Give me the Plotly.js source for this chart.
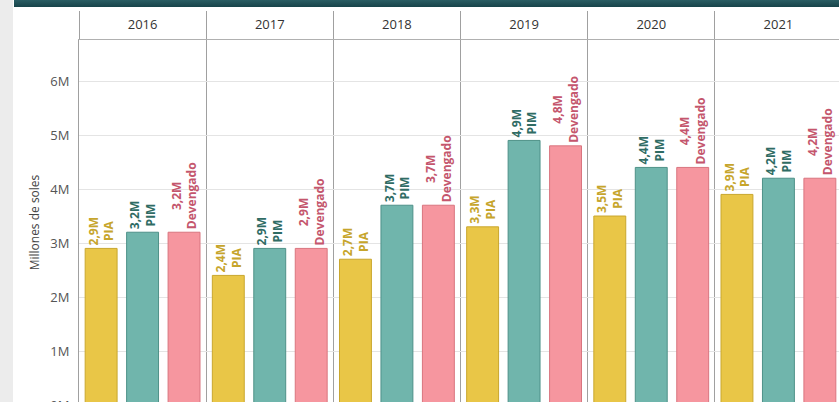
<!DOCTYPE html>
<html>
<head>
<meta charset="utf-8">
<script src="https://cdn.plot.ly/plotly-3.0.1.min.js"></script>
<style>
  html, body { margin: 0; padding: 0; width: 839px; height: 402px; overflow: hidden; background: #ececec; }
  #chart { position: absolute; left: 13px; top: 0; width: 850px; height: 420px; }
  #topbar { position: absolute; left: 14px; top: 0; width: 825px; height: 7px;
            background: linear-gradient(#2a5d63, #17444a); z-index: 5; }
</style>
</head>
<body>
<div id="chart"></div>
<div id="topbar"></div>
<script>
const years = ['2016', '2017', '2018', '2019', '2020', '2021'];
const pia = [2.9, 2.4, 2.7, 3.3, 3.5, 3.9];
const pim = [3.2, 2.9, 3.7, 4.9, 4.4, 4.2];
const devengado = [3.2, 2.9, 3.7, 4.8, 4.4, 4.2];
const seriesNames = ['PIA', 'PIM', 'Devengado'];
const yTickVals = [0, 1, 2, 3, 4, 5, 6];
const yTickText = ['0M', '1M', '2M', '3M', '4M', '5M', '6M'];

const fills = ['#E9C647', '#70B5AC', '#F6969F'];
const edges = ['#C9A72E', '#4E9188', '#D9757F'];
const labelColors = ['#C6A52C', '#2F6C64', '#C4566D'];

function fmt(v, name) {
  return v.toFixed(1).replace('.', ',') + 'M<br>' + name;
}

const allSeries = [pia, pim, devengado];
const traces = allSeries.map((vals, i) => ({
  type: 'bar',
  name: seriesNames[i],
  x: years,
  y: vals,
  text: vals.map(v => fmt(v, seriesNames[i])),
  textposition: 'outside',
  textangle: -90,
  constraintext: 'none',
  cliponaxis: false,
  textfont: { family: 'Open Sans, sans-serif', size: 12, color: labelColors[i], weight: 'bold' },
  marker: { color: fills[i], line: { color: edges[i], width: 1 } },
  hoverinfo: 'skip'
}));

const layout = {
  width: 850,
  height: 420,
  margin: { l: 66, r: 21, t: 40, b: 15 },
  paper_bgcolor: '#ffffff',
  plot_bgcolor: '#ffffff',
  showlegend: false,
  barmode: 'group',
  bargap: 0.022,
  bargroupgap: 0.23,
  font: { family: 'Open Sans, sans-serif', color: '#333' },
  xaxis: {
    type: 'category',
    side: 'top',
    tickson: 'boundaries',
    ticks: 'outside',
    ticklen: 28,
    tickcolor: '#a0a0a0',
    tickwidth: 1,
    showgrid: true,
    gridcolor: '#a0a0a0',
    gridwidth: 1,
    showline: true,
    linecolor: '#b0b0b0',
    linewidth: 1,
    ticklabelstandoff: 5,
    tickfont: { family: 'Open Sans, sans-serif', size: 13, color: '#333' }
  },
  yaxis: {
    range: [0, 6.76],
    tickvals: yTickVals,
    ticktext: yTickText,
    tickfont: { family: 'Open Sans, sans-serif', size: 13, color: '#555' },
    ticks: 'outside',
    ticklen: 6,
    tickcolor: 'rgba(0,0,0,0)',
    showgrid: true,
    gridcolor: '#e4e4e4',
    zeroline: false,
    showline: true,
    linecolor: '#a0a0a0',
    linewidth: 1,
    title: { text: 'Millones de soles', font: { family: 'Open Sans, sans-serif', size: 12, color: '#444' }, standoff: 8 }
  }
};

Plotly.newPlot('chart', traces, layout, { displayModeBar: false, staticPlot: true });
</script>
</body>
</html>
